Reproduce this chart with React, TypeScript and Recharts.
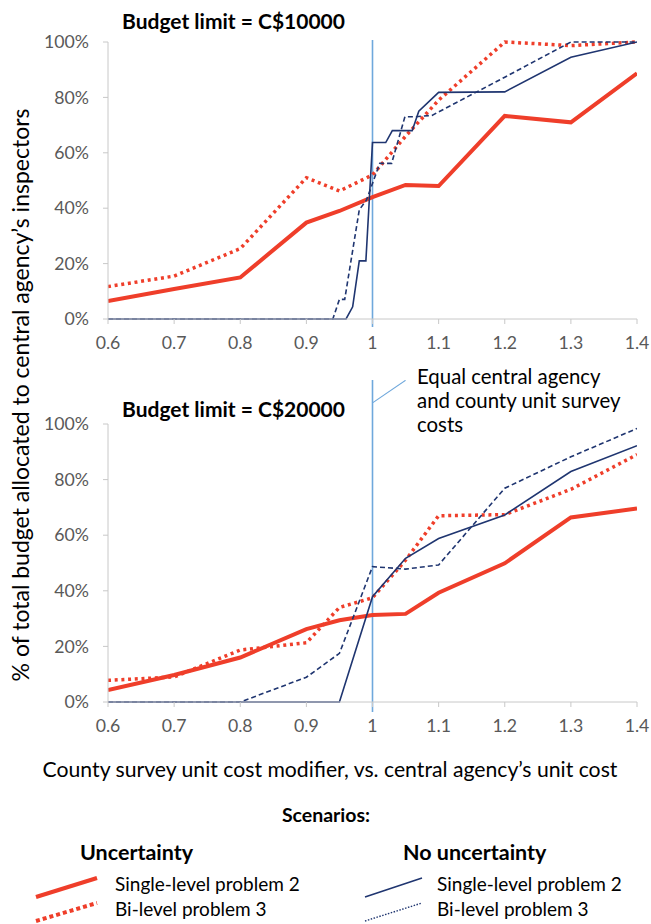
import React from "react";
import { LineChart, Line, XAxis, YAxis, ReferenceLine } from "recharts";

const xTicks = [0.6, 0.7, 0.8, 0.9, 1, 1.1, 1.2, 1.3, 1.4];
const yTicks = [0, 20, 40, 60, 80, 100];

// Budget limit = C$10000
const topUncSingleX = [0.6, 0.7, 0.8, 0.9, 0.95, 1.0, 1.05, 1.1, 1.2, 1.3, 1.4];
const topUncSingleY = [6.5, 10.8, 15, 34.8, 39, 44, 48.4, 48, 73.3, 71, 88.7];
const topUncBiX = [0.6, 0.7, 0.8, 0.9, 0.95, 1.0, 1.05, 1.1, 1.2, 1.3, 1.4];
const topUncBiY = [11.7, 15.5, 25.4, 51, 46.2, 52, 66, 79, 100, 98.7, 100];
const topNoSingleX = [0.6, 0.96, 0.97, 0.98, 0.99, 1.0, 1.02, 1.03, 1.06, 1.07, 1.1, 1.2, 1.3, 1.4];
const topNoSingleY = [0, 0, 4.4, 21, 21, 63.7, 63.7, 68, 68, 75, 81.8, 82, 94.5, 100];
const topNoBiX = [0.6, 0.94, 0.95, 0.958, 0.98, 0.991, 1.011, 1.029, 1.049, 1.064, 1.09, 1.2, 1.3, 1.4];
const topNoBiY = [0, 0, 7.1, 7.1, 39.4, 43, 56.2, 56.2, 73, 73, 73.5, 87.3, 100, 100];

// Budget limit = C$20000
const botUncSingleX = [0.6, 0.7, 0.8, 0.9, 0.95, 1.0, 1.05, 1.1, 1.2, 1.3, 1.4];
const botUncSingleY = [4.3, 9.7, 16, 26.2, 29.4, 31.3, 31.7, 39.3, 49.9, 66.4, 69.6];
const botUncBiX = [0.6, 0.7, 0.8, 0.9, 0.95, 1.0, 1.05, 1.1, 1.2, 1.3, 1.4];
const botUncBiY = [7.8, 9, 18.7, 21.3, 34, 37.5, 51, 67, 67.4, 76.5, 89];
const botNoSingleX = [0.6, 0.95, 1.0, 1.05, 1.1, 1.2, 1.3, 1.4];
const botNoSingleY = [0, 0, 37.9, 51.7, 58.8, 67.3, 82.9, 92.2];
const botNoBiX = [0.6, 0.8, 0.9, 0.95, 1.0, 1.05, 1.1, 1.2, 1.3, 1.4];
const botNoBiY = [0, 0, 8.9, 17.5, 48.7, 47.8, 49.3, 76.9, 88.2, 98.4];

const zip = (xs: number[], ys: number[]) => xs.map((x, i) => ({ x, y: ys[i] }));

const RED = "#EF3E2A";
const BLUE = "#1F3570";
const REF = "#6FA8DC";
const AXIS = "#c8c8c8";
const TICK = "#595959";
const FONT = "Lato, 'Open Sans', sans-serif";

type PanelProps = {
  uncSingle: { x: number; y: number }[];
  uncBi: { x: number; y: number }[];
  noSingle: { x: number; y: number }[];
  noBi: { x: number; y: number }[];
  marginTop: number;
  marginBottom: number;
  refTop: number;
  refBottom: number;
  leader?: boolean;
};

const Panel = (p: PanelProps) => (
  <LineChart
    width={651}
    height={360}
    margin={{ top: p.marginTop, right: 14, bottom: p.marginBottom, left: 0 }}
  >
    <XAxis
      dataKey="x"
      type="number"
      domain={[0.6, 1.4]}
      ticks={xTicks}
      allowDataOverflow
      height={30}
      tickSize={5}
      tickMargin={12}
      stroke={AXIS}
      tick={{ fill: TICK, fontSize: 17.7, fontFamily: FONT }}
      tickLine={{ stroke: AXIS }}
      tickFormatter={(v: number) => String(Math.round(v * 10) / 10)}
    />
    <YAxis
      type="number"
      domain={[0, 100]}
      ticks={yTicks}
      width={108}
      tickSize={5}
      tickMargin={14}
      stroke={AXIS}
      tick={{ fill: TICK, fontSize: 17.7, fontFamily: FONT }}
      tickLine={{ stroke: AXIS }}
      tickFormatter={(v: number) => `${v}%`}
    />
    <ReferenceLine
      segment={[{ x: 1, y: p.refTop }, { x: 1, y: p.refBottom }]}
      stroke={REF}
      strokeWidth={1.6}
      ifOverflow="visible"
    />
    {p.leader ? (
      <ReferenceLine
        segment={[{ x: 1, y: 107.6 }, { x: 1.05, y: 115.7 }]}
        stroke={REF}
        strokeWidth={1.2}
        ifOverflow="visible"
      />
    ) : null}
    <Line
      data={p.uncSingle}
      dataKey="y"
      type="linear"
      stroke={RED}
      strokeWidth={4}
      dot={false}
      isAnimationActive={false}
    />
    <Line
      data={p.uncBi}
      dataKey="y"
      type="linear"
      stroke={RED}
      strokeWidth={3.5}
      strokeDasharray="3 3.7"
      dot={false}
      isAnimationActive={false}
    />
    <Line
      data={p.noSingle}
      dataKey="y"
      type="linear"
      stroke={BLUE}
      strokeWidth={1.6}
      dot={false}
      isAnimationActive={false}
    />
    <Line
      data={p.noBi}
      dataKey="y"
      type="linear"
      stroke={BLUE}
      strokeWidth={1.6}
      strokeDasharray="5 3"
      dot={false}
      isAnimationActive={false}
    />
  </LineChart>
);

export default function App() {
  return (
    <div style={{ position: "absolute", left: 0, top: 0, width: 651, height: 924, background: "#fff" }}>
      <div style={{ position: "absolute", left: 0, top: 0 }}>
        <Panel
          uncSingle={zip(topUncSingleX, topUncSingleY)}
          uncBi={zip(topUncBiX, topUncBiY)}
          noSingle={zip(topNoSingleX, topNoSingleY)}
          noBi={zip(topNoBiX, topNoBiY)}
          marginTop={42}
          marginBottom={11}
          refTop={100.7}
          refBottom={-2.9}
        />
      </div>
      <div style={{ position: "absolute", left: 0, top: 380 }}>
        <Panel
          uncSingle={zip(botUncSingleX, botUncSingleY)}
          uncBi={zip(botUncBiX, botUncBiY)}
          noSingle={zip(botNoSingleX, botNoSingleY)}
          noBi={zip(botNoBiX, botNoBiY)}
          marginTop={44}
          marginBottom={8}
          refTop={115.8}
          refBottom={-3.6}
          leader
        />
      </div>
      <svg
        width={651}
        height={924}
        style={{ position: "absolute", left: 0, top: 0, pointerEvents: "none" }}
        fontFamily={FONT}
      >
        <text x={122} y={29} fontSize={21} fontWeight="bold" fill="#000">Budget limit = C$10000</text>
        <text x={122} y={417} fontSize={21} fontWeight="bold" fill="#000">Budget limit = C$20000</text>
        <text x={417} y={384} fontSize={20.4} fill="#000">Equal central agency</text>
        <text x={417} y={408} fontSize={20.4} fill="#000">and county unit survey</text>
        <text x={417} y={432} fontSize={20.4} fill="#000">costs</text>
        <text
          x={0}
          y={0}
          fontSize={23}
          fill="#000"
          textAnchor="middle"
          transform="translate(29 395) rotate(-90)"
        >
          % of total budget allocated to central agency’s inspectors
        </text>
        <text x={330} y={777} fontSize={21.2} fill="#000" textAnchor="middle">
          County survey unit cost modifier, vs. central agency’s unit cost
        </text>
        <text x={326} y={822} fontSize={19.5} fontWeight="bold" fill="#000" textAnchor="middle">Scenarios:</text>
        <text x={80} y={860} fontSize={21.5} fontWeight="bold" fill="#000">Uncertainty</text>
        <text x={403} y={860} fontSize={21.5} fontWeight="bold" fill="#000">No uncertainty</text>
        <line x1={36} y1={897} x2={97} y2={878} stroke={RED} strokeWidth={4} />
        <line x1={36} y1={921} x2={97} y2={903} stroke={RED} strokeWidth={4} strokeDasharray="4 3" />
        <line x1={365} y1={897} x2={422} y2={878} stroke={BLUE} strokeWidth={1.6} />
        <line x1={365} y1={921} x2={422} y2={903} stroke={BLUE} strokeWidth={1.4} strokeDasharray="1.5 1.5" />
        <text x={115} y={891} fontSize={19} fill="#000">Single-level problem 2</text>
        <text x={115} y={916} fontSize={19} fill="#000">Bi-level problem 3</text>
        <text x={437} y={891} fontSize={19} fill="#000">Single-level problem 2</text>
        <text x={437} y={916} fontSize={19} fill="#000">Bi-level problem 3</text>
      </svg>
    </div>
  );
}
